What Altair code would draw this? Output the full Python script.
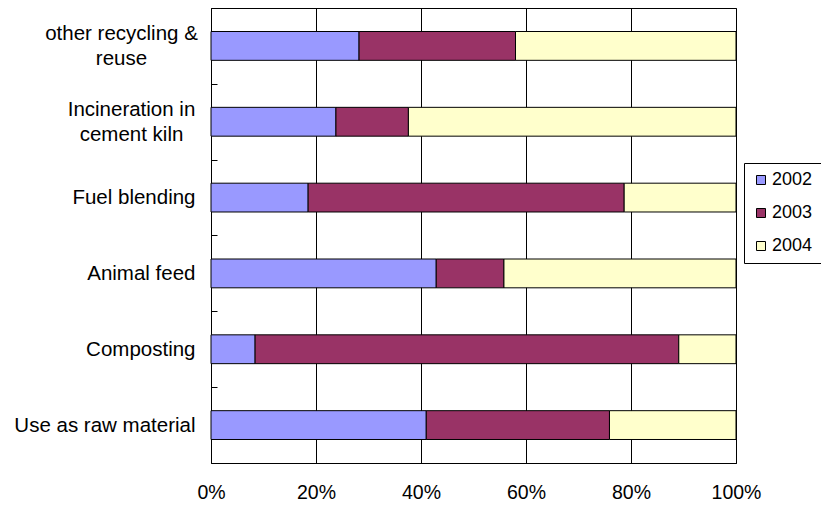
import altair as alt
import pandas as pd

categories = ["other recycling & reuse", "Incineration in cement kiln", "Fuel blending",
              "Animal feed", "Composting", "Use as raw material"]
years = ["2002", "2003", "2004"]
v2002 = [28.2, 23.8, 18.5, 42.9, 8.4, 41.0]
v2003 = [29.8, 13.8, 60.2, 12.9, 80.7, 34.9]
v2004 = [42.0, 62.4, 21.3, 44.2, 10.9, 24.1]
x_ticks = [0, 0.2, 0.4, 0.6, 0.8, 1.0]
colors = ["#9999FF", "#993366", "#FFFFCC"]
multi_a = ("other recycling & reuse", ["other recycling &", "reuse"])
multi_b = ("Incineration in cement kiln", ["Incineration in", "cement kiln"])

rows = []
for i, c in enumerate(categories):
    for j, (y, vals) in enumerate(zip(years, [v2002, v2003, v2004])):
        rows.append({"category": c, "year": y, "value": vals[i], "order": j})
df = pd.DataFrame(rows)

FONT = "Liberation Sans"
YFS = 20.5
yscale = alt.Scale(domain=categories, paddingInner=0.62, paddingOuter=0.31)

single_expr = "indexof(['%s','%s'], datum.label) >= 0 ? '' : datum.label" % (multi_a[0], multi_b[0])
expr_a = "datum.label == '%s' ? ['%s', '%s'] : ''" % (multi_a[0], multi_a[1][0], multi_a[1][1])
expr_b = "datum.label == '%s' ? ['%s', '%s'] : ''" % (multi_b[0], multi_b[1][0], multi_b[1][1])

bars = alt.Chart(df).mark_bar(stroke="black", strokeWidth=1).encode(
    x=alt.X("value:Q", stack="normalize", scale=alt.Scale(domain=[0, 1]),
            axis=alt.Axis(format="%", values=x_ticks, grid=True, gridColor="black",
                          gridWidth=1, ticks=False, tickSize=0, domain=True,
                          domainColor="black", labelPadding=20, labelFontSize=19.5,
                          labelFlush=False, labelFont=FONT, labelColor="black", title=None)),
    y=alt.Y("category:N", scale=yscale,
            axis=alt.Axis(title=None, orient="left", offset=-6, domain=False, ticks=True,
                          tickSize=6, tickColor="black", tickOffset=-38, labelOffset=38,
                          labelPadding=16, labelAlign="right", labelFont=FONT,
                          labelFontSize=YFS, labelColor="black", labelExpr=single_expr,
                          labelLimit=400, grid=False)),
    color=alt.Color("year:N", scale=alt.Scale(domain=years, range=colors),
                    legend=alt.Legend(orient="none", legendX=533, legendY=155, title=None,
                                      symbolType="square", symbolSize=81,
                                      symbolStrokeColor="black", symbolStrokeWidth=1,
                                      labelFontSize=18, labelFont=FONT, labelColor="black",
                                      labelOffset=2, rowPadding=15, padding=8,
                                      strokeColor="black", fillColor="white")),
    order=alt.Order("order:Q"),
)

lab_a = alt.Chart(df).mark_point(opacity=0).encode(
    y=alt.Y("category:N", scale=yscale,
            axis=alt.Axis(title=None, orient="left", offset=0, domain=False, ticks=False,
                          tickSize=0, labelPadding=90, labelAlign="center", labelOffset=-12,
                          labelLineHeight=25, labelFont=FONT, labelFontSize=YFS,
                          labelColor="black", labelExpr=expr_a, labelLimit=400, grid=False)),
)
lab_b = alt.Chart(df).mark_point(opacity=0).encode(
    y=alt.Y("category:N", scale=yscale,
            axis=alt.Axis(title=None, orient="left", offset=0, domain=False, ticks=False,
                          tickSize=0, labelPadding=80, labelAlign="center", labelOffset=-12,
                          labelLineHeight=25, labelFont=FONT, labelFontSize=YFS,
                          labelColor="black", labelExpr=expr_b, labelLimit=400, grid=False)),
)

chart = alt.layer(bars, lab_a, lab_b).resolve_axis(y="independent").properties(
    width=525, height=455,
    autosize=alt.AutoSizeParams(type="none"),
    padding={"left": 211, "top": 8, "right": 85, "bottom": 51},
    background="white",
).configure_view(stroke="black", strokeWidth=1)

chart.save("out.html", embed_options={"renderer": "svg", "actions": False})
